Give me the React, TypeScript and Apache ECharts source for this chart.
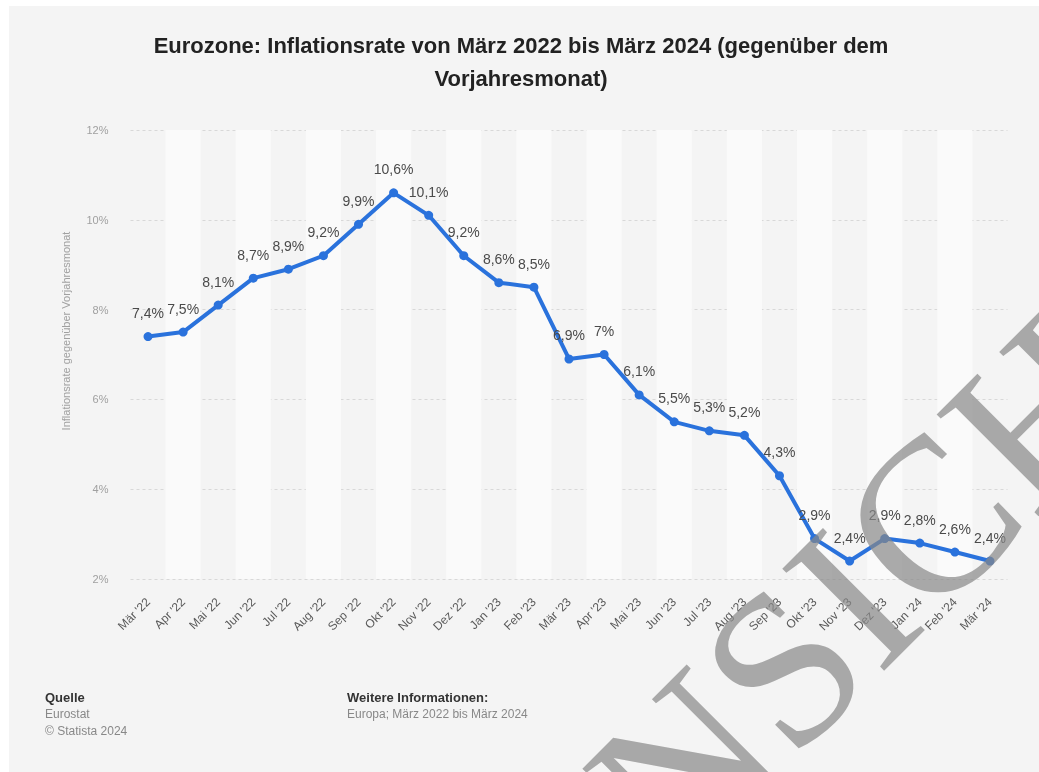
import React, { useEffect, useRef } from "react";
import * as echarts from "echarts";

const categories = [
  "Mär '22", "Apr '22", "Mai '22", "Jun '22", "Jul '22", "Aug '22", "Sep '22", "Okt '22",
  "Nov '22", "Dez '22", "Jan '23", "Feb '23", "Mär '23", "Apr '23", "Mai '23", "Jun '23",
  "Jul '23", "Aug '23", "Sep '23", "Okt '23", "Nov '23", "Dez '23", "Jan '24", "Feb '24", "Mär '24",
];
const inflation = [
  7.4, 7.5, 8.1, 8.7, 8.9, 9.2, 9.9, 10.6, 10.1, 9.2, 8.6, 8.5, 6.9, 7.0, 6.1, 5.5,
  5.3, 5.2, 4.3, 2.9, 2.4, 2.9, 2.8, 2.6, 2.4,
];
const titleLines = [
  "Eurozone: Inflationsrate von März 2022 bis März 2024 (gegenüber dem",
  "Vorjahresmonat)",
];
const yAxisName = "Inflationsrate gegenüber Vorjahresmonat";
const sourceLines = ["Eurostat", "© Statista 2024"];
const infoLines = ["Europa; März 2022 bis März 2024"];
const watermark = "ANSICHT";

const fmt = (v: number) => String(v).replace(".", ",") + "%";

export default function App() {
  const ref = useRef<HTMLDivElement>(null);
  useEffect(() => {
    if (!ref.current) return;
    const chart = echarts.init(ref.current, null, { renderer: "svg" });
    const font = "'Liberation Sans', Arial, sans-serif";
    chart.setOption({
      animation: false,
      textStyle: { fontFamily: font },
      grid: { left: 130.5, right: 31.5, top: 130, bottom: 193, containLabel: false },
      xAxis: {
        type: "category",
        data: categories,
        boundaryGap: true,
        axisLine: { show: false },
        axisTick: { show: false },
        axisLabel: {
          interval: 0,
          rotate: 45,
          margin: 21,
          fontSize: 12,
          color: "#5a5a5a",
          fontFamily: font,
        },
        splitLine: { show: false },
        splitArea: {
          show: true,
          interval: 0,
          areaStyle: { color: ["rgba(0,0,0,0)", "#fafafa"] },
        },
      },
      yAxis: {
        type: "value",
        min: 2,
        max: 12,
        interval: 2,
        axisLine: { show: false },
        axisTick: { show: false },
        axisLabel: {
          formatter: "{value}%",
          fontSize: 11,
          color: "#a0a0a0",
          margin: 22,
          fontFamily: font,
        },
        splitLine: { show: true, lineStyle: { type: [3, 3], color: "#d8d8d8", width: 1 } },
      },
      series: [
        {
          type: "line",
          data: inflation,
          symbol: "circle",
          symbolSize: 9,
          lineStyle: { color: "#2a72dc", width: 4 },
          itemStyle: { color: "#2a72dc" },
          label: {
            show: true,
            position: "top",
            distance: 12,
            fontSize: 14,
            color: "#4a4a4a",
            fontFamily: font,
            formatter: (p: any) => fmt(p.value),
          },
          z: 3,
        },
      ],
      graphic: [
        {
          type: "rect",
          z: -10,
          silent: true,
          shape: { x: 9, y: 6, width: 1030, height: 766 },
          style: { fill: "#f4f4f4" },
        },
        ...titleLines.map((t, i) => ({
          type: "text",
          x: 521,
          y: 45 + i * 33,
          style: {
            text: t,
            fontSize: 22,
            fontWeight: "bold",
            fontFamily: font,
            fill: "#222",
            textAlign: "center",
            textVerticalAlign: "middle",
          },
        })),
        {
          type: "text",
          x: 66,
          y: 331,
          rotation: Math.PI / 2,
          style: {
            text: yAxisName,
            fontSize: 11,
            fill: "#a0a0a0",
            fontFamily: font,
            textAlign: "center",
            textVerticalAlign: "middle",
          },
        },
        {
          type: "text",
          x: 45,
          y: 697,
          style: { text: "Quelle", fontSize: 13, fontWeight: "bold", fill: "#333", fontFamily: font, textVerticalAlign: "middle" },
        },
        ...sourceLines.map((t, i) => ({
          type: "text",
          x: 45,
          y: 714 + i * 17,
          style: { text: t, fontSize: 12, fill: "#888", fontFamily: font, textVerticalAlign: "middle" },
        })),
        {
          type: "text",
          x: 347,
          y: 697,
          style: { text: "Weitere Informationen:", fontSize: 13, fontWeight: "bold", fill: "#333", fontFamily: font, textVerticalAlign: "middle" },
        },
        ...infoLines.map((t, i) => ({
          type: "text",
          x: 347,
          y: 714 + i * 17,
          style: { text: t, fontSize: 12, fill: "#888", fontFamily: font, textVerticalAlign: "middle" },
        })),
        {
          type: "text",
          x: 852,
          y: 598,
          rotation: Math.PI / 4,
          z: 100,
          silent: true,
          style: {
            text: watermark,
            fontSize: 220,
            fontFamily: "'Liberation Serif', 'DejaVu Serif', serif",
            fill: "rgba(135,135,135,0.7)",
            textAlign: "center",
            textVerticalAlign: "middle",
          },
        },
      ],
    });
    return () => chart.dispose();
  }, []);
  return (
    <div
      ref={ref}
      style={{ position: "fixed", left: 0, top: 0, width: 1039, height: 772 }}
    />
  );
}
